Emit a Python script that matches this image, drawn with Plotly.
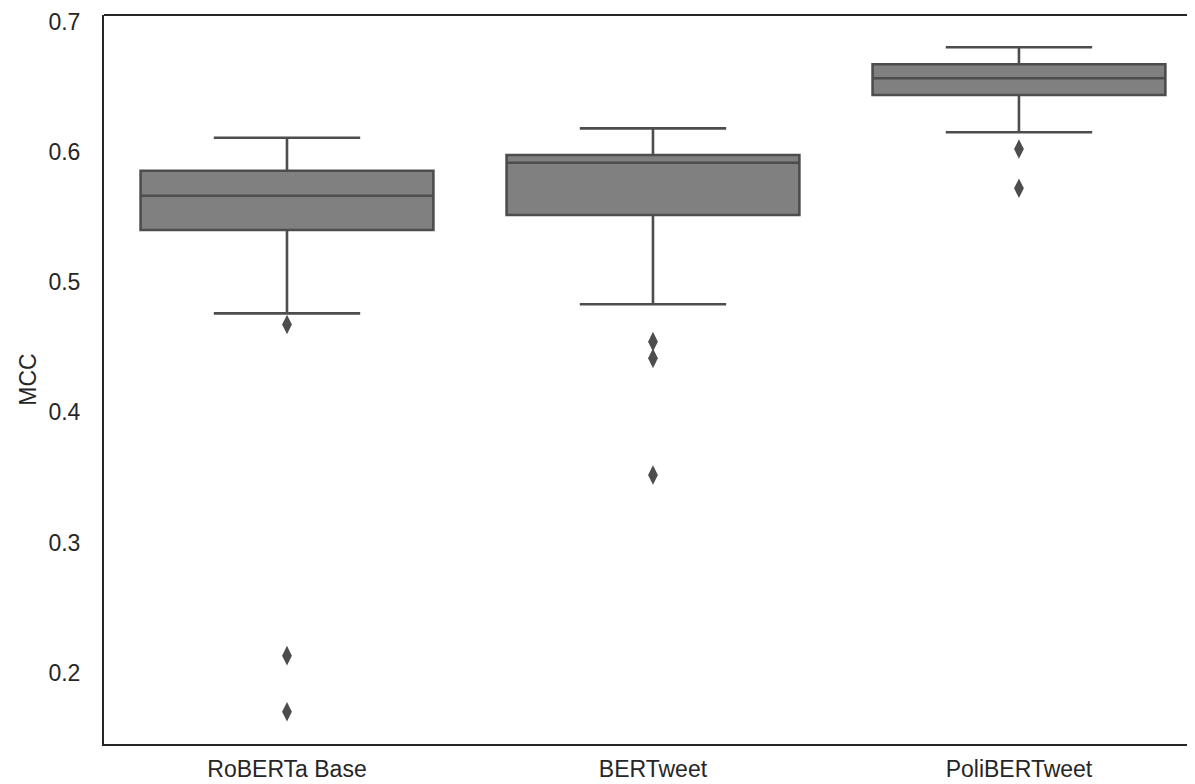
import plotly.graph_objects as go

categories = ["RoBERTa Base", "BERTweet", "PoliBERTweet"]
lower_whisker = [0.476, 0.483, 0.615]
q1_vals = [0.540, 0.5515, 0.6436]
median_vals = [0.5663, 0.5916, 0.6564]
q3_vals = [0.5855, 0.5975, 0.6672]
upper_whisker = [0.6108, 0.618, 0.6802]
outliers = {
    "RoBERTa Base": [0.4675, 0.2133, 0.1703],
    "BERTweet": [0.4543, 0.4415, 0.352],
    "PoliBERTweet": [0.6021, 0.572],
}
y_ticks = [0.2, 0.3, 0.4, 0.5, 0.6, 0.7]

FONT = "Liberation Sans, Arial, sans-serif"
LINE = "#4d4d4d"
FILL = "#808080"
TXT = "#262626"

fig = go.Figure()
fig.add_trace(go.Box(
    x=categories,
    q1=q1_vals, median=median_vals, q3=q3_vals,
    lowerfence=lower_whisker, upperfence=upper_whisker,
    boxpoints=False,
    width=0.8, whiskerwidth=0.5,
    fillcolor=FILL,
    line=dict(color=LINE, width=2.6),
    showlegend=False,
))

ox, oy = [], []
for c in categories:
    for v in outliers[c]:
        ox.append(c)
        oy.append(v)
fig.add_trace(go.Scatter(
    x=ox, y=oy, mode="markers",
    marker=dict(symbol="diamond-tall", size=14, color=LINE, line=dict(width=0)),
    showlegend=False,
))

fig.update_layout(
    width=1187, height=776,
    margin=dict(l=96, r=0, t=7, b=40, autoexpand=False),
    paper_bgcolor="white", plot_bgcolor="white",
    font=dict(family=FONT, size=23, color=TXT),
    xaxis=dict(
        type="category", categoryorder="array", categoryarray=categories,
        range=[-0.5, 2.481], automargin=False,
        showgrid=False, zeroline=False,
        showline=True, linecolor=TXT, linewidth=2,
        ticks="", ticklabelstandoff=3,
        tickfont=dict(family=FONT, size=23, color=TXT),
    ),
    yaxis=dict(
        range=[0.14551, 0.70499], automargin=False,
        tickvals=y_ticks, ticktext=[f"{t:.1f}" for t in y_ticks],
        showgrid=False, zeroline=False,
        showline=True, linecolor=TXT, linewidth=2,
        ticks="", ticklabelstandoff=17,
        tickfont=dict(family=FONT, size=23, color=TXT),
        title=dict(text="MCC", font=dict(family=FONT, size=23, color=TXT), standoff=5),
    ),
    shapes=[dict(type="line", xref="paper", yref="paper", x0=0, x1=1, y0=1, y1=1,
                 line=dict(color=TXT, width=2))],
)

fig.write_html("out.html")
